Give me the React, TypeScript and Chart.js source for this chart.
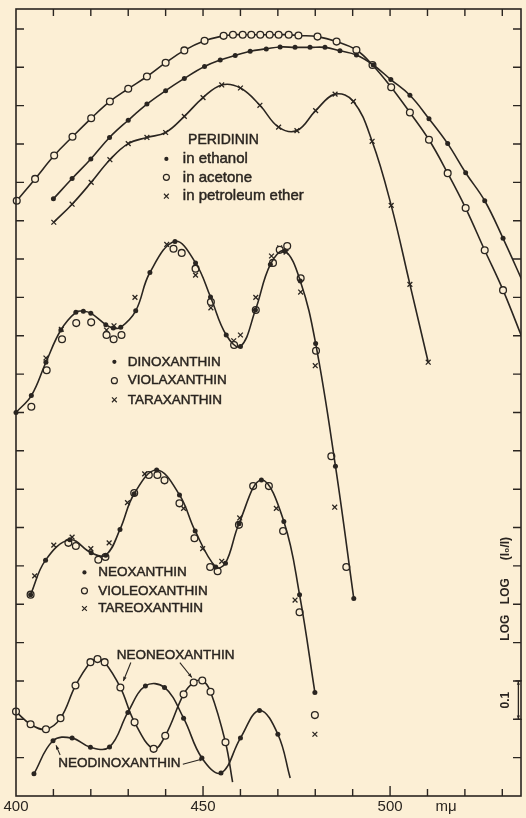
import React, { useEffect, useRef } from 'react';
import { Chart, registerables } from 'chart.js';

Chart.register(...registerables);

type P = [number, number];

// ---------- axis ticks ----------
const xTickLabels: [number, string][] = [
  [400, '400'],
  [450, '450'],
  [500, '500'],
  [515, 'mμ'],
];
const xTickMarks = [410, 420, 430, 440, 450, 460, 470, 480, 490, 500, 510, 520, 530];
const xMajorMarks = [450, 500];
const yTickMarks = [0.1, 0.2, 0.3, 0.4, 0.5, 0.6, 0.7, 0.8, 0.9, 1.0, 1.1, 1.2, 1.3, 1.4, 1.5, 1.6, 1.7, 1.8, 1.9, 2.0];
const X_MIN = 400;
const X_MAX = 535;
const Y_MIN = 0;
const Y_MAX = 2.052;

// ---------- PERIDININ ----------
const peridininEthanol: P[] = [
  [410, 1.557], [415, 1.610], [420, 1.661], [425, 1.717], [430, 1.762], [435, 1.804],
  [440, 1.839], [445, 1.871], [450.4, 1.902], [454.6, 1.919], [458.6, 1.931], [462.6, 1.942],
  [466.9, 1.948], [470.6, 1.953], [474.6, 1.952], [478.6, 1.952], [482.6, 1.952], [486.6, 1.943],
  [491, 1.932], [495.5, 1.906], [500.2, 1.868], [505.3, 1.827], [510.4, 1.766], [515.4, 1.701],
  [520.2, 1.625], [525.3, 1.552], [530.2, 1.454],
];
const peridininEthanolTail: P[] = [[535.5, 1.34]];

const peridininAcetone: P[] = [
  [400.2, 1.552], [405.1, 1.609], [410.2, 1.670], [415.1, 1.719], [420.1, 1.767], [425.1, 1.811],
  [430, 1.844], [435, 1.876], [440, 1.912], [445, 1.944], [450.4, 1.969], [455.5, 1.982],
  [458, 1.985], [460.6, 1.985], [462.9, 1.985], [465.3, 1.985], [467.8, 1.985], [470.2, 1.985],
  [472.9, 1.985], [475.5, 1.983], [480.6, 1.980], [485.7, 1.967], [491, 1.945], [495.3, 1.906],
  [500.3, 1.848], [505.3, 1.782], [510.4, 1.711], [515.4, 1.624], [520.2, 1.533], [525.3, 1.423],
  [530.2, 1.319],
];
const peridininAcetoneTail: P[] = [[535.5, 1.19]];

const peridininPetEther: P[] = [
  [410.1, 1.496], [415, 1.543], [420.1, 1.600], [425.1, 1.659], [430, 1.701], [435, 1.717],
  [440, 1.730], [445, 1.772], [450, 1.821], [455, 1.854], [460, 1.846], [465.2, 1.801],
  [470.2, 1.744], [475.1, 1.735], [480.1, 1.787], [485.3, 1.830], [490.2, 1.811], [495.2, 1.707],
  [500.3, 1.540], [505.3, 1.334], [510.2, 1.131],
];

// ---------- DINOXANTHIN group ----------
const dinoxanthin: P[] = [
  [400, 1.000], [404.1, 1.044], [408, 1.131], [412, 1.215], [416, 1.261], [418, 1.264],
  [420, 1.259], [424, 1.229], [426, 1.220], [428, 1.222], [432, 1.265], [435.8, 1.365],
  [442.5, 1.446], [448, 1.390], [452, 1.301], [456.2, 1.202], [460, 1.172], [464, 1.267],
  [468, 1.386], [471.8, 1.421], [476, 1.343], [480.1, 1.180], [485.4, 0.860], [490.3, 0.515],
];
const violaxanthin: P[] = [
  [404.1, 1.015], [408.2, 1.110], [412.3, 1.191], [416.1, 1.233], [420.1, 1.235], [424.2, 1.202],
  [426.1, 1.191], [428.2, 1.202], [442.1, 1.427], [444.3, 1.416], [448, 1.375], [452.1, 1.288],
  [458.3, 1.176], [464.1, 1.267], [468.7, 1.390], [470.5, 1.424], [472.5, 1.434], [476.1, 1.350],
  [480.2, 1.161], [484.3, 0.886], [488.3, 0.597],
];
const taraxanthin: P[] = [
  [408, 1.142], [412.1, 1.217], [424.2, 1.215], [426.2, 1.226], [431.8, 1.300], [440.3, 1.438],
  [448, 1.358], [452.1, 1.273], [458.2, 1.187], [460, 1.202], [464.1, 1.300], [468.3, 1.408],
  [470.5, 1.429], [472.2, 1.418], [476.1, 1.314], [480, 1.122], [485.2, 0.753],
];

// ---------- NEOXANTHIN group ----------
const neoxanthin: P[] = [
  [403.9, 0.525], [407.9, 0.615], [414.4, 0.668], [420.1, 0.634], [424, 0.628], [427.8, 0.695],
  [431.6, 0.788], [437.6, 0.850], [443.7, 0.785], [447.9, 0.691], [453.4, 0.597], [456, 0.607],
  [459.6, 0.710], [465.6, 0.824], [471.6, 0.716], [475.8, 0.525], [479.9, 0.270],
];
const violeoxanthin: P[] = [
  [403.9, 0.525], [414, 0.660], [416, 0.652], [422, 0.616], [423.9, 0.623], [431.6, 0.790],
  [435.5, 0.837], [437.8, 0.837], [439.7, 0.823], [443.7, 0.763], [447.7, 0.672], [451.9, 0.597],
  [453.9, 0.586], [459.6, 0.707], [463.4, 0.808], [467.6, 0.808], [471.4, 0.691], [475.8, 0.479],
  [479.9, 0.211],
];
const tareoxanthin: P[] = [
  [405, 0.574], [410.1, 0.654], [415, 0.675], [420, 0.645], [424.9, 0.660], [429.8, 0.765],
  [434.4, 0.840], [444.8, 0.750], [449.9, 0.645], [455, 0.612], [459.8, 0.725], [469.6, 0.750],
  [474.6, 0.511], [479.9, 0.161],
];

// ---------- NEONEOXANTHIN / NEODINOXANTHIN ----------
const neoneoxanthin: P[] = [
  [400, 0.220], [403.9, 0.187], [408, 0.174], [411.9, 0.203], [415.9, 0.288], [419.9, 0.349],
  [421.8, 0.357], [423.7, 0.349], [427.9, 0.283], [431.7, 0.192], [436.8, 0.123], [439.9, 0.157],
  [444.8, 0.265], [447.5, 0.296], [449.8, 0.301], [452, 0.272], [456, 0.140],
];
const neoneoxanthinTail: P[] = [[457.9, 0.036]];
const neodinoxanthin: P[] = [
  [404.8, 0.058], [409.9, 0.144], [415, 0.151], [419.9, 0.127], [425, 0.128], [429.9, 0.218],
  [434.6, 0.287], [439.7, 0.283], [444.8, 0.203], [449.7, 0.099], [454.8, 0.060], [460, 0.151],
  [465.1, 0.223], [470, 0.161],
];
const neodinoxanthinTail: P[] = [[473.3, 0.047]];

// ---------- styling ----------
const INK = '#2a2520';
const PAPER = '#fcefd5';
const FONT = "'Liberation Sans', Arial, sans-serif";

type Marker = 'dot' | 'open' | 'cross' | 'none';

function markerStyle(m: Marker) {
  if (m === 'dot') return { pointStyle: 'circle', r: 2.5, bg: INK, bw: 0 };
  if (m === 'open') return { pointStyle: 'circle', r: 3.4, bg: PAPER, bw: 1.3 };
  if (m === 'cross') return { pointStyle: 'crossRot', r: 3.4, bg: INK, bw: 1.3 };
  return { pointStyle: 'circle', r: 0, bg: INK, bw: 0 };
}

function series(label: string, pts: P[], tail: P[], marker: Marker, showLine: boolean, clipLeft = 0) {
  const s = markerStyle(marker);
  const n = pts.length;
  return {
    type: 'line' as const,
    label,
    data: [...pts, ...tail].map(([x, y]) => ({ x, y })),
    showLine,
    borderColor: INK,
    borderWidth: 1.6,
    tension: 0.4,
    fill: false,
    pointStyle: s.pointStyle,
    pointRadius: (ctx: any) => (ctx.dataIndex < n ? s.r : 0),
    pointHoverRadius: 0,
    pointBackgroundColor: s.bg,
    pointBorderColor: INK,
    pointBorderWidth: s.bw,
    clip: { left: clipLeft, top: 6, right: 0, bottom: 6 },
  };
}

// ---------- annotation layout (data coordinates) ----------
const titles = [
  { text: 'PERIDININ', x: 446, y: 1.709, size: 14 },
  { text: 'NEONEOXANTHIN', x: 426.9, y: 0.367, size: 13.5 },
  { text: 'NEODINOXANTHIN', x: 411.3, y: 0.086, size: 13.5 },
];
const legendRows: { marker: Marker; mx: number; tx: number; y: number; text: string; size: number }[] = [
  { marker: 'dot', mx: 440.2, tx: 444.6, y: 1.661, text: 'in ethanol', size: 15 },
  { marker: 'open', mx: 440.2, tx: 444.6, y: 1.613, text: 'in acetone', size: 15 },
  { marker: 'cross', mx: 440.2, tx: 444.6, y: 1.564, text: 'in petroleum ether', size: 15 },
  { marker: 'dot', mx: 426.3, tx: 429.9, y: 1.132, text: 'DINOXANTHIN', size: 13.5 },
  { marker: 'open', mx: 426.3, tx: 429.9, y: 1.083, text: 'VIOLAXANTHIN', size: 13.5 },
  { marker: 'cross', mx: 426.3, tx: 429.9, y: 1.033, text: 'TARAXANTHIN', size: 13.5 },
  { marker: 'dot', mx: 418.3, tx: 422.0, y: 0.583, text: 'NEOXANTHIN', size: 13.5 },
  { marker: 'open', mx: 418.3, tx: 422.0, y: 0.535, text: 'VIOLEOXANTHIN', size: 13.5 },
  { marker: 'cross', mx: 418.3, tx: 422.0, y: 0.489, text: 'TAREOXANTHIN', size: 13.5 },
];
const arrows: [number, number, number, number][] = [
  [430.7, 0.348, 428.7, 0.300],
  [443.8, 0.348, 447.0, 0.309],
  [444.6, 0.083, 450.1, 0.097],
  [411.8, 0.107, 410.7, 0.132],
];
const yTitleWords = [
  { text: 'LOG', y: 0.439 },
  { text: 'LOG', y: 0.534 },
  { text: '(I₀/I)', y: 0.645 },
];
const yTitleX = 530.9;
const scaleBar = { x: 534.3, y0: 0.2, y1: 0.3, labelX: 530.9, labelY: 0.25, label: '0.1' };

function drawMarker(ctx: CanvasRenderingContext2D, m: Marker, px: number, py: number) {
  ctx.save();
  ctx.strokeStyle = INK;
  ctx.fillStyle = INK;
  ctx.lineWidth = 1.2;
  if (m === 'dot') {
    ctx.beginPath();
    ctx.arc(px, py, 2.1, 0, Math.PI * 2);
    ctx.fill();
  } else if (m === 'open') {
    ctx.beginPath();
    ctx.arc(px, py, 3, 0, Math.PI * 2);
    ctx.stroke();
  } else if (m === 'cross') {
    const d = 2.4;
    ctx.beginPath();
    ctx.moveTo(px - d, py - d);
    ctx.lineTo(px + d, py + d);
    ctx.moveTo(px + d, py - d);
    ctx.lineTo(px - d, py + d);
    ctx.stroke();
  }
  ctx.restore();
}

function arrowHead(ctx: CanvasRenderingContext2D, x1: number, y1: number, x2: number, y2: number, size: number) {
  const a = Math.atan2(y2 - y1, x2 - x1);
  ctx.beginPath();
  ctx.moveTo(x2, y2);
  ctx.lineTo(x2 - size * Math.cos(a - 0.4), y2 - size * Math.sin(a - 0.4));
  ctx.lineTo(x2 - size * Math.cos(a + 0.4), y2 - size * Math.sin(a + 0.4));
  ctx.closePath();
  ctx.fill();
}

// text with slightly heavier stroke, like the lettering-guide text of the original
function heavyText(ctx: CanvasRenderingContext2D, text: string, x: number, y: number) {
  ctx.fillText(text, x, y);
  ctx.lineWidth = 0.45;
  ctx.strokeText(text, x, y);
}

const decorPlugin = {
  id: 'decor',
  afterDatasetsDraw(chart: any) {
    const { ctx, chartArea: a } = chart;
    const xs = chart.scales.x;
    const ys = chart.scales.y;
    const X = (v: number) => xs.getPixelForValue(v);
    const Y = (v: number) => ys.getPixelForValue(v);
    ctx.save();
    ctx.strokeStyle = INK;
    ctx.fillStyle = INK;

    // frame
    ctx.lineWidth = 1.6;
    ctx.strokeRect(a.left, a.top, a.right - a.left, a.bottom - a.top);

    // inward tick marks
    ctx.lineWidth = 1.4;
    ctx.beginPath();
    for (const v of xTickMarks) {
      const px = X(v);
      const len = xMajorMarks.includes(v) ? 10 : 7;
      ctx.moveTo(px, a.bottom);
      ctx.lineTo(px, a.bottom - len);
      ctx.moveTo(px, a.top);
      ctx.lineTo(px, a.top + 7);
    }
    for (const v of yTickMarks) {
      const py = Y(v);
      ctx.moveTo(a.left, py);
      ctx.lineTo(a.left + 8, py);
      ctx.moveTo(a.right, py);
      ctx.lineTo(a.right - 8, py);
    }
    ctx.stroke();

    // titles
    ctx.textBaseline = 'middle';
    ctx.textAlign = 'left';
    for (const t of titles) {
      ctx.font = `${t.size}px ${FONT}`;
      heavyText(ctx, t.text, X(t.x), Y(t.y));
    }
    // legend rows
    for (const r of legendRows) {
      drawMarker(ctx, r.marker, X(r.mx), Y(r.y));
      ctx.font = `${r.size}px ${FONT}`;
      heavyText(ctx, r.text, X(r.tx), Y(r.y));
    }
    // arrows
    ctx.lineWidth = 1.1;
    for (const [x1, y1, x2, y2] of arrows) {
      const p1 = [X(x1), Y(y1)];
      const p2 = [X(x2), Y(y2)];
      ctx.beginPath();
      ctx.moveTo(p1[0], p1[1]);
      ctx.lineTo(p2[0], p2[1]);
      ctx.stroke();
      arrowHead(ctx, p1[0], p1[1], p2[0], p2[1], 4.5);
    }

    // rotated y title
    ctx.font = `bold 12px ${FONT}`;
    ctx.textAlign = 'center';
    for (const w of yTitleWords) {
      ctx.save();
      ctx.translate(X(yTitleX), Y(w.y));
      ctx.rotate(-Math.PI / 2);
      ctx.fillText(w.text, 0, 0);
      ctx.restore();
    }

    // scale bar 0.1
    const bx = X(scaleBar.x);
    const b0 = Y(scaleBar.y0);
    const b1 = Y(scaleBar.y1);
    ctx.lineWidth = 1.3;
    ctx.beginPath();
    ctx.moveTo(bx, b0);
    ctx.lineTo(bx, b1);
    ctx.moveTo(bx - 3, b0);
    ctx.lineTo(bx + 3.5, b0);
    ctx.moveTo(bx - 3, b1);
    ctx.lineTo(bx + 3.5, b1);
    ctx.stroke();
    arrowHead(ctx, bx, b0 - 8, bx, b0, 4);
    arrowHead(ctx, bx, b1 + 8, bx, b1, 4);
    ctx.save();
    ctx.translate(X(scaleBar.labelX), Y(scaleBar.labelY));
    ctx.rotate(-Math.PI / 2);
    ctx.font = `bold 12px ${FONT}`;
    ctx.fillText(scaleBar.label, 0, 0);
    ctx.restore();

    ctx.restore();
  },
};

export default function App() {
  const ref = useRef<HTMLCanvasElement | null>(null);

  useEffect(() => {
    const canvas = ref.current;
    if (!canvas) return;
    const chart = new Chart(canvas, {
      type: 'line',
      data: {
        datasets: [
          series('Peridinin in ethanol', peridininEthanol, peridininEthanolTail, 'dot', true),
          series('Peridinin in acetone', peridininAcetone, peridininAcetoneTail, 'open', true, 6),
          series('Peridinin in petroleum ether', peridininPetEther, [], 'cross', true),
          series('Dinoxanthin', dinoxanthin, [], 'dot', true, 6),
          series('Violaxanthin', violaxanthin, [], 'open', false),
          series('Taraxanthin', taraxanthin, [], 'cross', false),
          series('Neoxanthin', neoxanthin, [], 'dot', true),
          series('Violeoxanthin', violeoxanthin, [], 'open', false),
          series('Tareoxanthin', tareoxanthin, [], 'cross', false),
          series('Neoneoxanthin', neoneoxanthin, neoneoxanthinTail, 'open', true, 6),
          series('Neodinoxanthin', neodinoxanthin, neodinoxanthinTail, 'dot', true),
        ] as any,
      },
      options: {
        animation: false,
        responsive: false,
        devicePixelRatio: 1,
        events: [],
        layout: { padding: { left: 16, right: 5, top: 9, bottom: 0 } },
        plugins: {
          legend: { display: false },
          tooltip: { enabled: false },
          title: { display: false },
        },
        scales: {
          x: {
            type: 'linear',
            position: 'bottom',
            min: X_MIN,
            max: X_MAX,
            grid: { display: false, drawTicks: false },
            border: { display: false },
            afterBuildTicks: (scale: any) => {
              scale.ticks = xTickLabels.map(([v]) => ({ value: v }));
            },
            ticks: {
              autoSkip: false,
              maxRotation: 0,
              minRotation: 0,
              padding: 2,
              color: INK,
              font: { family: FONT, size: 15 },
              callback: (_v: any, i: number) => xTickLabels[i]?.[1] ?? '',
            },
          },
          y: {
            type: 'linear',
            min: Y_MIN,
            max: Y_MAX,
            display: false,
          },
        },
      } as any,
      plugins: [decorPlugin],
    });
    return () => chart.destroy();
  }, []);

  return (
    <div
      style={{
        position: 'fixed',
        left: 0,
        top: 0,
        width: 526,
        height: 818,
        background: PAPER,
        overflow: 'hidden',
      }}
    >
      <canvas ref={ref} width={526} height={818} style={{ display: 'block', width: 526, height: 818 }} />
    </div>
  );
}
